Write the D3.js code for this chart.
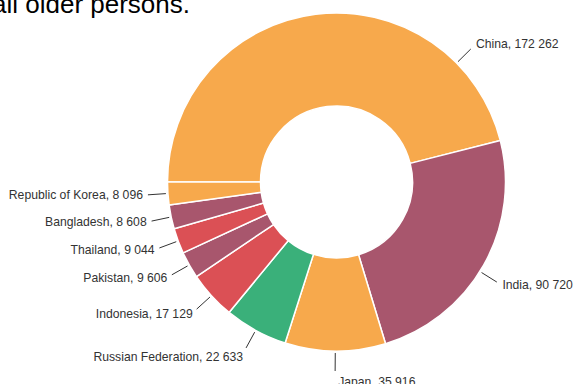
<!DOCTYPE html>
<html>
<head>
<meta charset="utf-8">
<script src="https://cdn.jsdelivr.net/npm/d3@7/dist/d3.min.js"></script>
<style>
  html, body { margin: 0; padding: 0; background: #fff; }
  svg { display: block; font-family: "Liberation Sans", Arial, sans-serif; }
</style>
</head>
<body>
<svg id="chart" width="574" height="384"></svg>
<script>
// Older persons by country (thousands), largest first, clockwise from 9 o'clock
const countries = ["China", "India", "Japan", "Russian Federation", "Indonesia",
                   "Pakistan", "Thailand", "Bangladesh", "Republic of Korea"];
const values = [172262, 90720, 35916, 22633, 17129, 9606, 9044, 8608, 8096];
const sliceColors = ["#f7a94c", "#a8566d", "#f7a94c", "#3ab07a", "#db5055",
                     "#a8566d", "#db5055", "#a8566d", "#f7a94c"];
const titleText = "all older persons.";

const width = 574, height = 384;
const cx = 336.5, cy = 182;
const outerR = 169, innerR = 76;
const labelTop = 49;

const svg = d3.select("#chart");

// Title (wider than the frame, only its tail is visible)
svg.append("text")
  .attr("x", 190)
  .attr("y", 13)
  .attr("text-anchor", "end")
  .attr("font-size", 26)
  .attr("fill", "#000")
  .text(titleText);

const data = countries.map((c, i) => ({ name: c, value: values[i], color: sliceColors[i] }));

const pie = d3.pie()
  .sort(null)
  .value(d => d.value)
  .startAngle(-Math.PI / 2)
  .endAngle(3 * Math.PI / 2);

const arc = d3.arc().innerRadius(innerR).outerRadius(outerR);
const arcs = pie(data);

const g = svg.append("g").attr("transform", `translate(${cx},${cy})`);

g.selectAll("path.slice")
  .data(arcs)
  .enter()
  .append("path")
  .attr("class", "slice")
  .attr("d", arc)
  .attr("fill", d => d.data.color)
  .attr("stroke", "#fff")
  .attr("stroke-width", 1.5)
  .attr("stroke-linejoin", "round");

const fmt = v => d3.format(",")(v).replace(/,/g, " ");

// Data labels with short radial connectors
const labels = g.selectAll("g.label")
  .data(arcs)
  .enter()
  .append("g")
  .attr("class", "label");

const r0 = outerR + 2, r1 = outerR + 20;

function placeLabel(sel, theta) {
  const s = Math.sin(theta), c = Math.cos(theta);
  const right = s >= -0.02;
  const x1 = s * r1, y1 = -c * r1;
  sel.select("line")
    .attr("x1", s * r0).attr("y1", -c * r0)
    .attr("x2", x1).attr("y2", y1);
  const tx = right ? x1 + 3 + 3 * Math.abs(s) : x1 - (1 + 4 * Math.abs(s));
  const ty = y1 - 11 * c * Math.abs(c);
  sel.select("text")
    .attr("x", tx)
    .attr("y", ty)
    .attr("text-anchor", right ? "start" : "end");
  return { right, tx };
}

labels.each(function (d) {
  let theta = (d.startAngle + d.endAngle) / 2;
  // keep labels below the title band, moved clockwise onto the circle
  if (cy - Math.cos(theta) * r1 < labelTop) {
    theta = Math.acos((cy - labelTop) / r1);
  }
  const sel = d3.select(this);
  sel.append("line")
    .attr("stroke", "#333")
    .attr("stroke-width", 1);
  const text = sel.append("text")
    .attr("dy", "0.35em")
    .attr("font-size", 12.2)
    .attr("fill", "#333")
    .text(`${d.data.name}, ${fmt(d.data.value)}`);
  const w = text.node().getComputedTextLength();

  // slide a label along the circle until it fits inside the frame
  const step = Math.PI / 360;
  for (let k = 0; k < 120; k++) {
    const p = placeLabel(sel, theta);
    const left = p.right ? cx + p.tx : cx + p.tx - w;
    const rightEdge = left + w;
    if (left >= 1 && rightEdge <= width - 1) break;
    // move away from the horizontal extreme of the side it sits on
    const lower = Math.cos(theta) < 0;
    if (p.right) theta += lower ? step : -step;
    else theta += lower ? -step : step;
  }
});
</script>
</body>
</html>
